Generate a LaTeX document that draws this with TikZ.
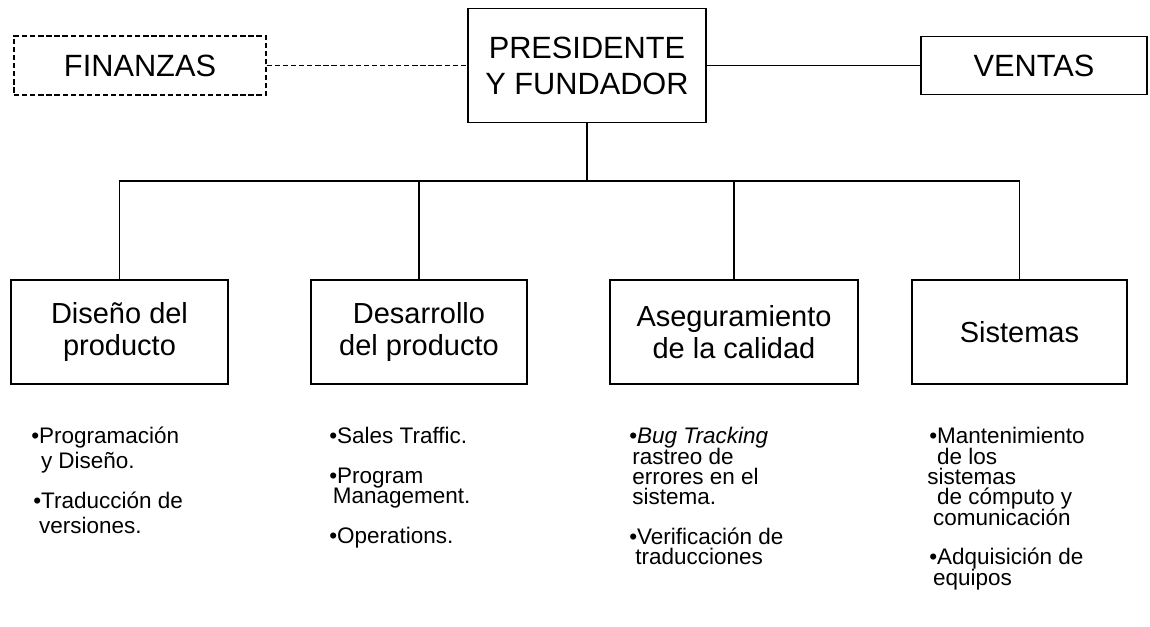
\documentclass[tikz,border=0pt]{standalone}
\usepackage{fontspec}
\setmainfont{Liberation Sans}
\usetikzlibrary{positioning}

\tikzset{
  caja/.style={draw, line width=0.9pt, align=center, inner sep=0pt,
    font=\fontsize{16.5}{18.5}\selectfont},
  cajatop/.style={caja, font=\fontsize{17.5}{20.5}\selectfont},
  punteada/.style={dash pattern=on 3pt off 1.6pt},
  linea/.style={line width=0.9pt},
  lista/.style={anchor=north west, align=left, inner sep=0pt,
    font=\fontsize{12.8}{11.6}\selectfont,
    execute at begin node={\lineskiplimit=-20pt\lineskip=0pt\rule{0pt}{1em}}},
}

\begin{document}
\begin{tikzpicture}[x=0.02cm, y=-0.02cm]
  \useasboundingbox (0,0) rectangle (1150,626);

  % Direccion
  \node[cajatop, minimum width=4.76cm, minimum height=2.28cm] (pres) at (587,65.5) {PRESIDENTE\\Y FUNDADOR};
  \node[cajatop, punteada, minimum width=5.04cm, minimum height=1.18cm] (fin) at (140,65.5) {FINANZAS};
  \node[cajatop, minimum width=4.52cm, minimum height=1.16cm] (ven) at (1034,65.5) {VENTAS};
  \draw[linea, punteada] (fin) -- (pres);
  \draw[linea] (pres) -- (ven);

  % Departamentos
  \coordinate (bus) at (587,181);
  \node[caja, minimum width=4.34cm, minimum height=2.08cm] (dis) at (119.5,332) {Diseño del\\producto};
  \node[caja, minimum width=4.32cm, minimum height=2.08cm] (des) at (419,332) {Desarrollo\\del producto};
  \node[caja, minimum width=4.96cm, minimum height=2.08cm] (ase) at (734,332) {Aseguramiento\\de la calidad};
  \node[caja, minimum width=4.30cm, minimum height=2.08cm] (sis) at (1019.5,332) {Sistemas};
  \draw[linea] (pres) -- (bus);
  \foreach \d in {dis,des,ase,sis}
    \draw[linea] (bus) -| (\d);

  % Funciones
  \node[lista, font=\fontsize{12.8}{14.2}\selectfont] (fdis) at (31,427) {•Programación\\\hspace*{5.5pt}y Diseño.\\[8.5pt]
    \hspace*{1.1pt}•Traducción de\\\hspace*{4.4pt}versiones.};
  \node[lista] (fdes) at (329,427) {•Sales Traffic.\\[11pt]
    •Program\\\hspace*{2pt}Management.\\[11pt]
    •Operations.};
  \node[lista] (fase) at (629,427) {•\textit{Bug Tracking}\\\hspace*{1.7pt}rastreo de\\\hspace*{1.7pt}errores en el\\\hspace*{1.7pt}sistema.\\[11pt]
    •Verificación de\\\hspace*{3.4pt}traducciones};
  \node[lista] (fsis) at (929,427) {•Mantenimiento\\\hspace*{4.4pt}de los\\\hspace*{-1.1pt}sistemas\\\hspace*{4.4pt}de cómputo y\\\hspace*{2.2pt}comunicación\\[11pt]
    •Adquisición de\\\hspace*{2.2pt}equipos};
\end{tikzpicture}
\end{document}
